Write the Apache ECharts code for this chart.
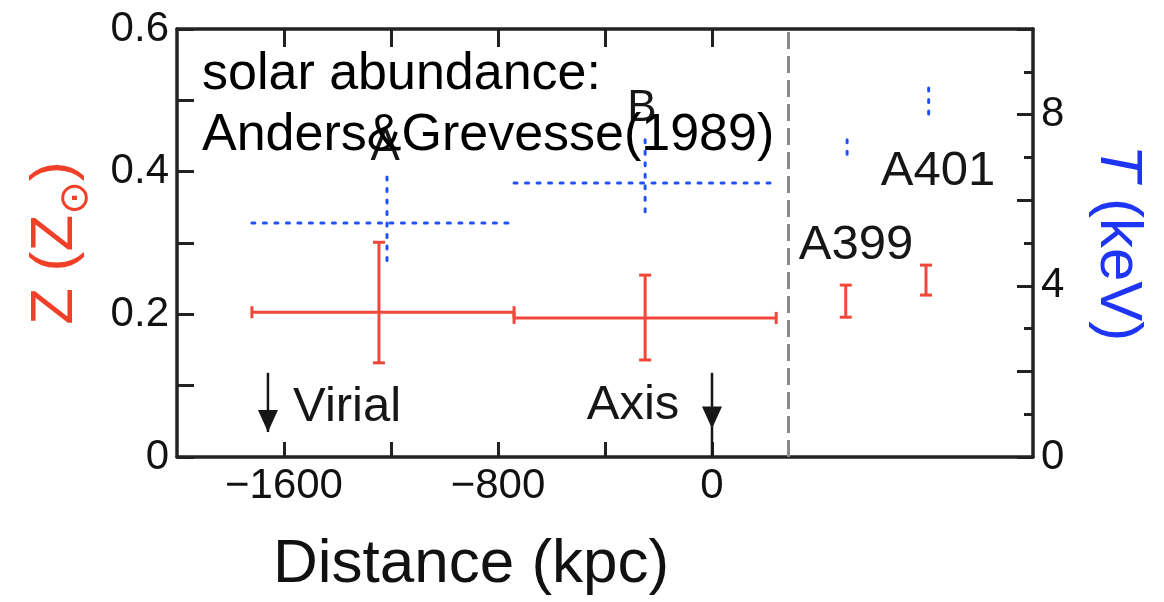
<!DOCTYPE html>
<html>
<head>
<meta charset="utf-8">
<script src="https://cdn.jsdelivr.net/npm/echarts@6/dist/echarts.min.js"></script>
<style>
  html, body { margin: 0; padding: 0; background: #fff; }
  #chart { width: 1164px; height: 602px; }
</style>
</head>
<body>
<div id="chart"></div>
<script>
const FONT = '"Liberation Sans", Arial, Helvetica, sans-serif'
const RED = '#f0473a'
const BLUE = '#2050ff'
const INK = '#161616'

// metallicity Z (solar) : regions A, B, then A399, A401
const zDist = [-1245, -250, 500, 800]
const zDistLo = [-1720, -740, 500, 800]
const zDistHi = [-740, 240, 500, 800]
const zValue = [0.203, 0.195, 0.218, 0.248]
const zLow = [0.132, 0.136, 0.196, 0.227]
const zHigh = [0.301, 0.255, 0.241, 0.269]

// temperature T (keV) : regions A, B, then A399, A401
const tDist = [-1215, -250, 505, 810]
const tDistLo = [-1720, -740, 505, 810]
const tDistHi = [-740, 240, 505, 810]
const tValue = [5.47, 6.40, 7.20, 8.30]
const tLow = [4.44, 5.72, 6.99, 7.99]
const tHigh = [6.54, 7.41, 7.41, 8.62]

// distance axis
const xTicks = [-1600, -1200, -800, -400, 0]
const xLabels = [-1600, -800, 0]
const panelDivider = 285

// arrows: virial radius and filament axis
const arrowDist = [-1660, 0]
const arrowTop = [0.118, 0.118]
const arrowTip = [0.035, 0.040]
const arrowEnd = [0.035, 0]

// annotations, in distance / Z coordinates
const noteText = ['A', 'B', 'A399', 'A401', 'Virial', 'Axis']
const noteDist = [-1222, -262, 538, 845, -1566, -295]
const noteZ = [0.433, 0.488, 0.297, 0.400, 0.070, 0.072]

const zip = (...cols) => cols[0].map((_, i) => cols.map(c => c[i]))

const errorBar = (color, dash, cap) => (params, api) => {
  const x = api.value(0)
  const y = api.value(3)
  const lo = api.coord([api.value(1), y])
  const hi = api.coord([api.value(2), y])
  const bottom = api.coord([x, api.value(4)])
  const top = api.coord([x, api.value(5)])
  const style = {stroke: color, lineWidth: 3, lineDash: dash, lineCap: dash ? 'round' : 'butt'}
  const line = (x1, y1, x2, y2) => ({type: 'line', shape: {x1, y1, x2, y2}, style})
  const children = [line(top[0], top[1], bottom[0], bottom[1])]
  const hasX = hi[0] - lo[0] > 1
  if (hasX) children.push(line(lo[0], lo[1], hi[0], hi[1]))
  if (cap) {
    children.push(line(top[0] - cap / 2, top[1], top[0] + cap / 2, top[1]))
    children.push(line(bottom[0] - cap / 2, bottom[1], bottom[0] + cap / 2, bottom[1]))
    if (hasX) {
      children.push(line(lo[0], lo[1] - cap / 2, lo[0], lo[1] + cap / 2))
      children.push(line(hi[0], hi[1] - cap / 2, hi[0], hi[1] + cap / 2))
    }
  }
  return {type: 'group', children}
}

const renderArrow = (params, api) => {
  const top = api.coord([api.value(0), api.value(1)])
  const tip = api.coord([api.value(0), api.value(2)])
  const end = api.coord([api.value(0), api.value(3)])
  return {
    type: 'group',
    children: [
      {type: 'line', shape: {x1: top[0], y1: top[1], x2: end[0], y2: end[1]},
        style: {stroke: INK, lineWidth: 2.5}},
      {type: 'polygon', shape: {points: [[tip[0], tip[1]], [tip[0] - 10, tip[1] - 22], [tip[0] + 10, tip[1] - 22]]},
        style: {fill: INK}}
    ]
  }
}

const renderNote = (params, api) => {
  const text = noteText[params.dataIndex]
  const p = api.coord([api.value(0), api.value(1)])
  return {
    type: 'text', x: p[0], y: p[1],
    style: {
      text,
      font: (text.length === 1 ? 44 : 49) + 'px ' + FONT,
      fill: INK,
      align: text === 'Virial' ? 'left' : 'center',
      verticalAlign: 'middle'
    }
  }
}

const axisLine = {show: true, onZero: false, lineStyle: {color: '#222', width: 3.5}}
const tickStyle = {color: '#222', width: 3}
const labelStyle = {fontFamily: FONT, fontSize: 42, color: '#111'}

const chart = echarts.init(document.getElementById('chart'))

chart.setOption({
  animation: false,
  grid: {left: 177, right: 131, top: 29, bottom: 145},
  xAxis: [
    {
      type: 'value', min: -2000, max: 1200, position: 'bottom',
      axisLine,
      axisTick: {inside: true, length: 15, customValues: xTicks, lineStyle: tickStyle},
      axisLabel: Object.assign({
        customValues: xLabels, margin: 8,
        formatter: v => v < 0 ? '\u2212' + (-v) : String(v)
      }, labelStyle),
      splitLine: {show: false}
    },
    {
      type: 'value', min: -2000, max: 1200, position: 'top',
      axisLine,
      axisTick: {inside: true, length: 18, customValues: xTicks, lineStyle: tickStyle},
      axisLabel: {show: false},
      splitLine: {show: false}
    }
  ],
  yAxis: [
    {
      type: 'value', min: 0, max: 0.6, interval: 0.1, position: 'left',
      axisLine,
      axisTick: {inside: true, length: 17, lineStyle: tickStyle},
      axisLabel: Object.assign({
        margin: 8,
        formatter: v => {
          const k = Math.round(v * 10)
          return k % 2 === 0 ? (k === 0 ? '0' : (k / 10).toFixed(1)) : ''
        }
      }, labelStyle),
      splitLine: {show: false},
      name: 'Z (Z{s|\u2299})',
      nameLocation: 'middle',
      nameRotate: 90,
      nameGap: 80,
      nameTextStyle: {
        fontFamily: FONT, fontSize: 60, lineHeight: 84, color: '#f04028',
        rich: {s: {fontFamily: '"DejaVu Sans", sans-serif', fontSize: 40, color: '#f04028', verticalAlign: 'bottom', lineHeight: 18}}
      }
    },
    {
      type: 'value', min: 0, max: 10, interval: 2, position: 'right',
      axisLine,
      axisTick: {inside: true, length: 16, lineStyle: tickStyle},
      minorTick: {show: true, splitNumber: 2, length: 9, lineStyle: tickStyle},
      axisLabel: Object.assign({
        margin: 8,
        formatter: v => v % 4 === 0 ? String(v) : ''
      }, labelStyle),
      splitLine: {show: false},
      name: '{i|T} (keV)',
      nameLocation: 'middle',
      nameRotate: -90,
      nameGap: 55,
      nameTextStyle: {
        fontFamily: FONT, fontSize: 60, color: '#1f35f5',
        rich: {i: {fontFamily: FONT, fontSize: 60, fontStyle: 'italic', color: '#1f35f5'}}
      }
    }
  ],
  series: [
    {
      name: 'Z', type: 'custom', xAxisIndex: 0, yAxisIndex: 0, z: 4,
      renderItem: errorBar(RED, null, 12),
      data: zip(zDist, zDistLo, zDistHi, zValue, zLow, zHigh),
      markLine: {
        silent: true, symbol: 'none', label: {show: false},
        lineStyle: {color: '#8a8a8a', width: 3, type: [17, 7]},
        data: [{xAxis: panelDivider}]
      }
    },
    {
      name: 'T', type: 'custom', xAxisIndex: 0, yAxisIndex: 1, z: 3,
      renderItem: errorBar(BLUE, [3, 8.5], 0),
      data: zip(tDist, tDistLo, tDistHi, tValue, tLow, tHigh)
    },
    {
      name: 'arrows', type: 'custom', xAxisIndex: 0, yAxisIndex: 0, z: 5,
      renderItem: renderArrow,
      data: zip(arrowDist, arrowTop, arrowTip, arrowEnd)
    },
    {
      name: 'notes', type: 'custom', xAxisIndex: 0, yAxisIndex: 0, z: 6, silent: true,
      renderItem: renderNote,
      data: zip(noteDist, noteZ)
    }
  ],
  graphic: [
    {type: 'text', z: 100, left: 202, top: 49,
      style: {text: 'solar abundance:', font: '52px ' + FONT, fill: '#000'}},
    {type: 'text', z: 100, left: 202, top: 110,
      style: {text: 'Anders&Grevesse(1989)', font: '52px ' + FONT, fill: '#000'}},
    {type: 'text', z: 100, left: 273, top: 534,
      style: {text: 'Distance (kpc)', font: '62px ' + FONT, fill: '#111'}}
  ]
})
</script>
</body>
</html>
